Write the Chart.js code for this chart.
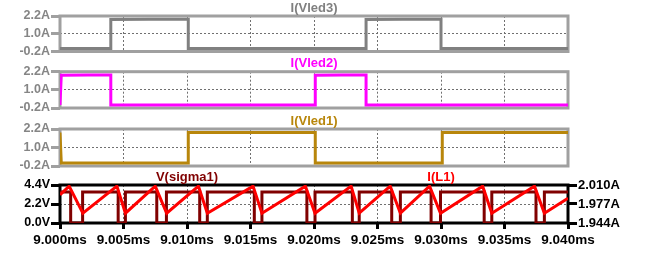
<!DOCTYPE html>
<html>
<head>
<meta charset="utf-8">
<script src="https://cdn.jsdelivr.net/npm/chart.js@4.4.1/dist/chart.umd.min.js"></script>
<style>
    html, body { margin: 0; padding: 0; background: #fff; }
    #stage { position: relative; width: 651px; height: 255px; overflow: hidden; }
    #stage canvas { position: absolute; left: 0; }
</style>
</head>
<body>
<div id="stage">
    <canvas id="paneLed3" width="651" height="60" style="top:0px"></canvas>
    <canvas id="paneLed2" width="651" height="62" style="top:55px"></canvas>
    <canvas id="paneLed1" width="651" height="62" style="top:113px"></canvas>
    <canvas id="paneMain" width="651" height="85" style="top:170px"></canvas>
</div>
<script>
// time axis (ms) and tick values
const timeTicks = [9.000, 9.005, 9.010, 9.015, 9.020, 9.025, 9.030, 9.035, 9.040];
const ledTicks = [-0.2, 1.0, 2.2];
const sigmaTicks = [0.0, 2.2, 4.4];
const coilTicks = [1.944, 1.977, 2.010];

// I(Vled3)
const led3Time = [9.0000, 9.0040, 9.0040, 9.0070, 9.0101, 9.0101, 9.0241, 9.0241, 9.0270, 9.0300, 9.0300, 9.0400];
const led3Amps = [0.0, 0.0, 1.96, 1.98, 1.98, 0.0, 0.0, 1.96, 1.98, 1.98, 0.0, 0.0];

// I(Vled2)
const led2Time = [9.0000, 9.0001, 9.0022, 9.0040, 9.0040, 9.0201, 9.0201, 9.0222, 9.0241, 9.0241, 9.0400];
const led2Amps = [0.0, 1.97, 1.98, 1.98, 0.0, 0.0, 1.97, 1.98, 1.98, 0.0, 0.0];

// I(Vled1)
const led1Time = [9.0000, 9.0001, 9.0101, 9.0101, 9.0150, 9.0201, 9.0201, 9.0301, 9.0301, 9.0350, 9.0400];
const led1Amps = [1.97, 0.0, 0.0, 1.97, 1.98, 1.98, 0.0, 0.0, 1.97, 1.98, 1.98];

// V(sigma1)
const sigmaTime = [
    9.00000,
    9.00084, 9.00084, 9.00178, 9.00178,
    9.00458, 9.00458, 9.00515, 9.00515,
    9.00762, 9.00762, 9.00838, 9.00838,
    9.01100, 9.01100, 9.01160, 9.01160,
    9.01530, 9.01530, 9.01590, 9.01590,
    9.01944, 9.01944, 9.02008, 9.02008,
    9.02302, 9.02302, 9.02356, 9.02356,
    9.02612, 9.02612, 9.02680, 9.02680,
    9.02922, 9.02922, 9.02996, 9.02996,
    9.03340, 9.03340, 9.03400, 9.03400,
    9.03748, 9.03748, 9.03814, 9.03814,
    9.04000,
];
const sigmaVolts = [
    3.6,
    3.6, 0.0, 0.0, 3.6,
    3.6, 0.0, 0.0, 3.6,
    3.6, 0.0, 0.0, 3.6,
    3.6, 0.0, 0.0, 3.6,
    3.6, 0.0, 0.0, 3.6,
    3.6, 0.0, 0.0, 3.6,
    3.6, 0.0, 0.0, 3.6,
    3.6, 0.0, 0.0, 3.6,
    3.6, 0.0, 0.0, 3.6,
    3.6, 0.0, 0.0, 3.6,
    3.6, 0.0, 0.0, 3.6,
    3.6,
];

// I(L1)
const coilTime = [
    9.00000, 9.00072, 9.00180, 9.00448, 9.00515, 9.00750, 9.00840, 9.01090, 9.01160,
    9.01520, 9.01590, 9.01932, 9.02008, 9.02292, 9.02356, 9.02600, 9.02680, 9.02910,
    9.02996, 9.03328, 9.03400, 9.03736, 9.03814, 9.04000,
];
const coilAmps = [
    1.993, 2.008, 1.961, 2.008, 1.961, 2.008, 1.961, 2.008, 1.961,
    2.008, 1.961, 2.008, 1.961, 2.008, 1.961, 2.008, 1.961, 2.008,
    1.961, 2.008, 1.961, 2.008, 1.961, 1.987,
];

const FONT = '"Liberation Sans", Arial, sans-serif';
const GRID_DOT = '#707070';

/**
 * @param {number[]} xs
 * @param {number[]} ys
 */
const zip = (xs, ys) => xs.map((x, i) => ({ x, y: ys[i] }));

const fixTicks = (values) => (scale) => {
    scale.ticks = values.map((value) => ({ value }));
};

// frame around the plot area + the trace names above it
const paneFrame = {
    id: 'paneFrame',
    beforeDatasetsDraw(chart, args, opts) {
        const { ctx, chartArea: a } = chart;
        ctx.save();
        ctx.strokeStyle = opts.color;
        ctx.lineWidth = 3;
        ctx.strokeRect(a.left, a.top, a.right - a.left, a.bottom - a.top);
        ctx.restore();
    },
    afterDraw(chart, args, opts) {
        const { ctx, chartArea: a } = chart;
        ctx.save();
        ctx.font = `bold 13px ${FONT}`;
        ctx.textAlign = 'center';
        ctx.textBaseline = 'middle';
        (opts.labels || []).forEach((label) => {
            ctx.fillStyle = label.color;
            ctx.fillText(label.text, a.left + (a.right - a.left) * label.at, a.top - 8);
        });
        ctx.restore();
    },
};

/**
 * @param {boolean} showLabels
 * @param {string} tickColor
 */
function timeAxis(showLabels, tickColor) {
    return {
        type: 'linear',
        min: 9.000,
        max: 9.040,
        afterBuildTicks: fixTicks(timeTicks),
        afterFit: (scale) => { scale.height = showLabels ? 32 : 0; },
        border: { display: false, dash: [2, 2] },
        grid: {
            color: GRID_DOT,
            lineWidth: 1,
            drawTicks: showLabels,
            tickLength: 6,
            tickColor,
            tickWidth: 3,
        },
        ticks: {
            display: showLabels,
            autoSkip: false,
            color: '#000',
            padding: 3,
            maxRotation: 0,
            font: { family: FONT, size: 13.5, weight: 'bold' },
            callback: (v) => `${Number(v).toFixed(3)}ms`,
        },
    };
}

/**
 * @param {object} cfg
 */
function valueAxis(cfg) {
    return {
        type: 'linear',
        position: cfg.position,
        min: cfg.ticks[0],
        max: cfg.ticks[cfg.ticks.length - 1],
        afterBuildTicks: fixTicks(cfg.ticks),
        afterFit: (scale) => { scale.width = cfg.width; },
        border: { display: false, dash: [2, 2] },
        grid: {
            color: GRID_DOT,
            lineWidth: 1,
            drawOnChartArea: cfg.gridOn,
            tickLength: 9,
            tickColor: cfg.tickColor,
            tickWidth: 3,
        },
        ticks: {
            autoSkip: false,
            color: cfg.labelColor,
            padding: 1,
            font: { family: FONT, size: cfg.fontSize, weight: 'bold' },
            callback: (v) => `${Number(v).toFixed(cfg.digits)}${cfg.unit}`,
        },
    };
}

function trace(data, color, yAxisID) {
    return {
        data,
        yAxisID,
        borderColor: color,
        borderWidth: 3,
        pointRadius: 0,
        tension: 0,
        fill: false,
    };
}

/**
 * @param {string} id
 * @param {object} pane
 */
function mountPane(id, pane) {
    return new Chart(document.getElementById(id), {
        type: 'line',
        data: { datasets: pane.datasets },
        options: {
            responsive: false,
            animation: false,
            devicePixelRatio: 1,
            layout: { padding: pane.padding },
            plugins: {
                legend: { display: false },
                tooltip: { enabled: false },
                paneFrame: { color: pane.frameColor, labels: pane.labels },
            },
            scales: pane.scales,
        },
        plugins: [paneFrame],
    });
}

const ledPanes = [
    { id: 'paneLed3', name: 'I(Vled3)', color: '#808080', time: led3Time, amps: led3Amps, padding: { top: 16, bottom: 8.3, left: 0, right: 83 } },
    { id: 'paneLed2', name: 'I(Vled2)', color: '#ff00ff', time: led2Time, amps: led2Amps, padding: { top: 16.7, bottom: 9, left: 0, right: 83 } },
    { id: 'paneLed1', name: 'I(Vled1)', color: '#b8860b', time: led1Time, amps: led1Amps, padding: { top: 16, bottom: 9, left: 0, right: 83 } },
];

ledPanes.forEach((p) => {
    mountPane(p.id, {
        datasets: [trace(zip(p.time, p.amps), p.color, 'y')],
        padding: p.padding,
        frameColor: '#a0a0a0',
        labels: [{ text: p.name, color: p.color, at: 0.5 }],
        scales: {
            x: timeAxis(false, '#a0a0a0'),
            y: valueAxis({
                position: 'left', ticks: ledTicks, width: 60, gridOn: true, tickColor: '#a0a0a0',
                labelColor: '#858585', fontSize: 12.5, digits: 1, unit: 'A',
            }),
        },
    });
});

mountPane('paneMain', {
    datasets: [
        trace(zip(coilTime, coilAmps), '#ff0000', 'yA'),
        trace(zip(sigmaTime, sigmaVolts), '#800000', 'yV'),
    ],
    padding: { top: 15, bottom: 0, left: 0, right: 0 },
    frameColor: '#000',
    labels: [
        { text: 'V(sigma1)', color: '#800000', at: 0.25 },
        { text: 'I(L1)', color: '#ff0000', at: 0.75 },
    ],
    scales: {
        x: timeAxis(true, '#000'),
        yV: valueAxis({
            position: 'left', ticks: sigmaTicks, width: 60, gridOn: true, tickColor: '#000',
            labelColor: '#000', fontSize: 12.5, digits: 1, unit: 'V',
        }),
        yA: valueAxis({
            position: 'right', ticks: coilTicks, width: 83, gridOn: false, tickColor: '#000',
            labelColor: '#000', fontSize: 13, digits: 3, unit: 'A',
        }),
    },
});
</script>
</body>
</html>
